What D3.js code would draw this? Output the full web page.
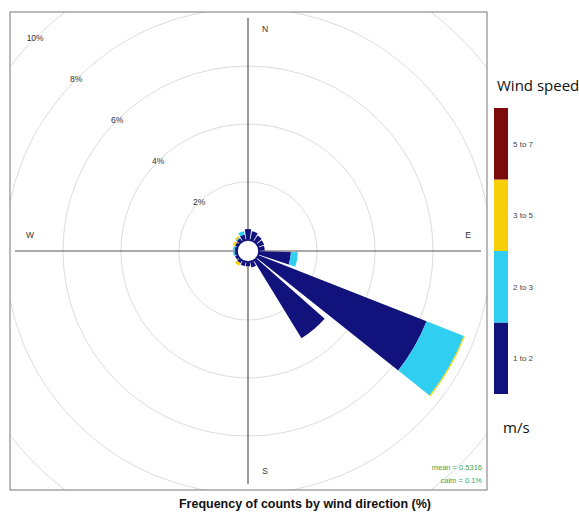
<!DOCTYPE html>
<html>
<head>
<meta charset="utf-8">
<script src="https://cdn.jsdelivr.net/npm/d3@7"></script>
<style>
  html, body { margin: 0; padding: 0; background: #fff; }
  svg { display: block; font-family: "Liberation Sans", Arial, sans-serif; }
</style>
</head>
<body>
<svg id="chart" width="579" height="516"></svg>
<script>
// Wind direction bins (bearing of bin centre, degrees) and frequency (%) per speed class
const directions = [20, 40, 60, 80, 100, 120, 140, 160, 180, 200, 220, 240, 260, 280, 300, 320, 340, 360];
const speed1to2 = [0.32, 0.25, 0.22, 0.20, 1.10, 6.24, 3.15, 0.20, 0.15, 0.15, 0.12, 0.10, 0.08, 0.08, 0.10, 0.14, 0.20, 0.38];
const speed2to3 = [0.00, 0.00, 0.00, 0.00, 0.24, 1.38, 0.00, 0.00, 0.00, 0.00, 0.00, 0.00, 0.06, 0.06, 0.00, 0.04, 0.12, 0.00];
const speed3to5 = [0.00, 0.00, 0.00, 0.00, 0.00, 0.04, 0.00, 0.00, 0.00, 0.00, 0.10, 0.00, 0.00, 0.00, 0.08, 0.05, 0.00, 0.00];
const speed5to7 = [0, 0, 0, 0, 0, 0, 0, 0, 0, 0, 0, 0, 0, 0, 0, 0, 0, 0];

const speedClasses = ["1 to 2", "2 to 3", "3 to 5", "5 to 7"];
const speedColors = ["#12127c", "#30cff2", "#f7cf06", "#7c0b0b"];
const ringTicks = [2, 4, 6, 8, 10];
const compass = ["N", "E", "S", "W"];
const meanSpeed = "0.5316";
const calmPct = "0.1%";

const svg = d3.select("#chart");
const cx = 248, cy = 251;
const panel = { x0: 10, y0: 12, x1: 487, y1: 490 };
const petalWidth = 17;
const axisHalf = 233;

// radial scale: % frequency -> pixels, with a small calm hole in the middle
const r = d3.scaleLinear().domain([0, 10]).range([11, 301]);
const rad = d => d * Math.PI / 180;

svg.append("defs").append("clipPath").attr("id", "panelClip")
  .append("rect").attr("x", panel.x0).attr("y", panel.y0)
  .attr("width", panel.x1 - panel.x0).attr("height", panel.y1 - panel.y0);

const plot = svg.append("g").attr("clip-path", "url(#panelClip)");

// grid rings
plot.append("g").selectAll("circle").data(ringTicks).join("circle")
  .attr("cx", cx).attr("cy", cy).attr("r", d => r(d))
  .attr("fill", "none").attr("stroke", "#dcdcdc").attr("stroke-width", 1);

// axes through the centre
const axes = plot.append("g").attr("stroke", "#555").attr("stroke-width", 1.2);
axes.append("line").attr("x1", cx).attr("x2", cx).attr("y1", cy - axisHalf).attr("y2", cy + axisHalf);
axes.append("line").attr("x1", cx - axisHalf).attr("x2", cx + axisHalf).attr("y1", cy).attr("y2", cy);

// ring labels along the north-west diagonal
plot.append("g").selectAll("text").data(ringTicks).join("text")
  .attr("x", d => cx - r(d) * Math.SQRT1_2)
  .attr("y", d => cy - r(d) * Math.SQRT1_2 + 3)
  .attr("text-anchor", "middle").attr("font-size", 8.5).attr("fill", "#333")
  .text(d => d + "%");

// compass labels
const compassPos = { N: [cx + 17, cy - 219], E: [cx + 220, cy - 13], S: [cx + 17, cy + 223], W: [cx - 218, cy - 13] };
plot.append("g").selectAll("text").data(compass).join("text")
  .attr("x", d => compassPos[d][0]).attr("y", d => compassPos[d][1])
  .attr("text-anchor", "middle").attr("font-size", 8.5).attr("fill", "#333")
  .text(d => d);

// stacked petals
const series = [speed1to2, speed2to3, speed3to5, speed5to7];
const segs = [];
directions.forEach((dir, i) => {
  let acc = 0;
  series.forEach((s, k) => {
    const v = s[i];
    if (v > 0) segs.push({ dir, k, lo: acc, hi: acc + v });
    acc += v;
  });
});
const arc = d3.arc()
  .innerRadius(d => r(d.lo))
  .outerRadius(d => r(d.hi))
  .startAngle(d => rad(d.dir - petalWidth / 2))
  .endAngle(d => rad(d.dir + petalWidth / 2));
plot.append("g").attr("transform", `translate(${cx},${cy})`)
  .selectAll("path").data(segs).join("path")
  .attr("d", arc).attr("fill", d => speedColors[d.k]);

// calm circle outline
plot.append("circle").attr("cx", cx).attr("cy", cy).attr("r", r(0))
  .attr("fill", "#fff").attr("stroke", "#12127c").attr("stroke-width", 1.6);

// mean / calm annotation
const note = svg.append("g").attr("font-size", 7.5).attr("fill", "#3fa34d").attr("text-anchor", "end");
note.append("text").attr("x", 482).attr("y", 470).text("mean = " + meanSpeed);
note.append("text").attr("x", 482).attr("y", 483).text("calm = " + calmPct);

// panel frame
svg.append("rect").attr("x", panel.x0).attr("y", panel.y0)
  .attr("width", panel.x1 - panel.x0).attr("height", panel.y1 - panel.y0)
  .attr("fill", "none").attr("stroke", "#777").attr("stroke-width", 1);

// title
svg.append("text").attr("x", 305).attr("y", 508).attr("text-anchor", "middle")
  .attr("font-size", 12.5).attr("font-weight", "bold").attr("fill", "#111")
  .text("Frequency of counts by wind direction (%)");

// colour key
const key = svg.append("g");
key.append("text").attr("x", 497).attr("y", 91).attr("font-size", 15)
  .attr("font-family", "'Open Sans', sans-serif").attr("fill", "#111").text("Wind speed");
const ky = d3.scaleBand().domain(speedClasses.slice().reverse()).range([108, 394]);
key.selectAll("rect").data(speedClasses).join("rect")
  .attr("x", 494).attr("width", 14)
  .attr("y", d => ky(d)).attr("height", ky.bandwidth())
  .attr("fill", (d, i) => speedColors[i]);
key.selectAll("text.lbl").data(speedClasses).join("text").attr("class", "lbl")
  .attr("x", 513).attr("y", d => ky(d) + ky.bandwidth() / 2 + 3)
  .attr("font-size", 8).attr("fill", "#444").text(d => d);
key.append("text").attr("x", 503).attr("y", 433).attr("font-size", 15)
  .attr("font-family", "'Open Sans', sans-serif").attr("fill", "#111").text("m/s");
</script>
</body>
</html>
